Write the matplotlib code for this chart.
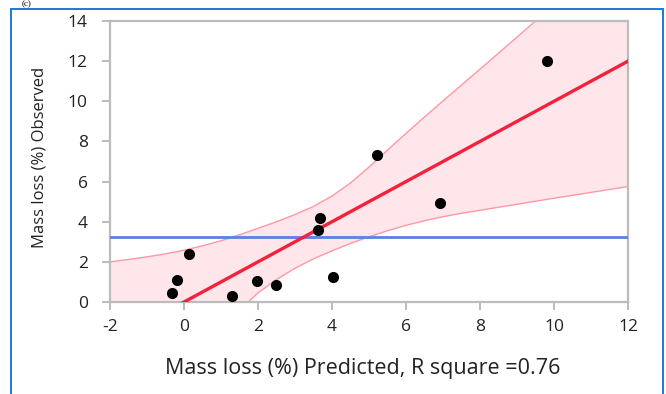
import matplotlib
matplotlib.use("Agg")
import matplotlib.pyplot as plt
from matplotlib.patches import Rectangle

# Dane
predicted = [9.82, 5.22, 6.92, 3.68, 3.62, 0.14, -0.19, -0.32, 1.30, 1.97, 2.48, 4.02]
observed = [12.0, 7.30, 4.93, 4.20, 3.57, 2.38, 1.10, 0.46, 0.30, 1.05, 0.83, 1.27]

fit_x = [-2, 12]
fit_y = [-2.0, 12.0]
mean_obs = 3.25

# górna granica pasma ufności
upper_x = [-2, -1.5, -1, -0.5, 0, 0.5, 1, 1.5, 2, 2.5, 3, 3.5, 4, 4.5, 5,
           5.5, 6, 6.5, 7, 7.5, 8, 8.5, 9, 9.5, 10, 11, 12]
upper_y = [2.0, 2.12, 2.25, 2.4, 2.58, 2.8, 3.05, 3.35, 3.67, 4.0, 4.36, 4.76, 5.28, 5.93, 6.72,
           7.57, 8.4, 9.22, 10.02, 10.81, 11.6, 12.4, 13.2, 14.0, 14.8, 16.4, 18.0]

# dolna granica pasma ufności
lower_x = [-2, -1, 0, 1, 1.5, 2, 2.5, 3, 3.5, 4, 4.5, 5, 5.5, 6, 6.5,
           7, 7.5, 8, 9, 10, 11, 12]
lower_y = [-6.0, -4.5, -2.9, -1.2, -0.4, 0.45, 1.12, 1.68, 2.15, 2.55, 2.92, 3.25, 3.55, 3.82, 4.05,
           4.25, 4.42, 4.57, 4.87, 5.17, 5.46, 5.75]

xticks = [-2, 0, 2, 4, 6, 8, 10, 12]
yticks = [0, 2, 4, 6, 8, 10, 12, 14]

plt.rcParams['font.family'] = ['Open Sans', 'DejaVu Sans']
plt.rcParams['axes.unicode_minus'] = False

fig = plt.figure(figsize=(6.66, 3.94), dpi=100)
ax = fig.add_axes([110 / 666, 1 - 302 / 394, 518 / 666, 281 / 394])

# pasmo ufności
band_poly_x = upper_x + lower_x[::-1]
band_poly_y = upper_y + lower_y[::-1]
ax.fill(band_poly_x, band_poly_y, color='#ffe6ea', lw=0, zorder=1)
ax.plot(upper_x, upper_y, color='#ff98a6', lw=1.0, zorder=2)
ax.plot(lower_x, lower_y, color='#ff98a6', lw=1.0, zorder=2)

ax.axhline(mean_obs, color='#5b80e6', lw=2.0, zorder=3)
ax.plot(fit_x, fit_y, color='#f4203c', lw=2.4, zorder=4)
ax.plot(predicted, observed, 'o', color='black', ms=7, zorder=5)

ax.set_xlim(-2, 12)
ax.set_ylim(0, 14)
ax.set_xticks(xticks)
ax.set_yticks(yticks)

for s in ax.spines.values():
    s.set_color('#bcbcbc')
    s.set_linewidth(1.6)

ax.tick_params(axis='both', colors='#b0b0b0', labelcolor='#222222', labelsize=12.5, length=6, width=1.2)
ax.tick_params(axis='x', pad=6)
ax.tick_params(axis='y', pad=10)

ax.set_xlabel('Mass loss (%) Predicted, R square =0.76', fontsize=15.5, color='#222222')
ax.xaxis.set_label_coords(0.487, -0.235)
ax.xaxis.label.set_va('center')
ax.set_ylabel('Mass loss (%) Observed', fontsize=12, color='#222222')
ax.yaxis.set_label_coords(-0.137, 0.516)
ax.yaxis.label.set_va('center')

# ramka wokół rysunku
fig.patches.append(Rectangle((11 / 666, -0.05), 652 / 666, 1 - 9 / 394 + 0.05,
                             transform=fig.transFigure, fill=False,
                             edgecolor='#1c7ad4', lw=1.4))

# podpis nad ramką
fig.text(22 / 666, 1.0, '(c)', fontsize=6.5, family='Liberation Serif',
         va='top', color='black')

plt.savefig('out.png', dpi=100)
